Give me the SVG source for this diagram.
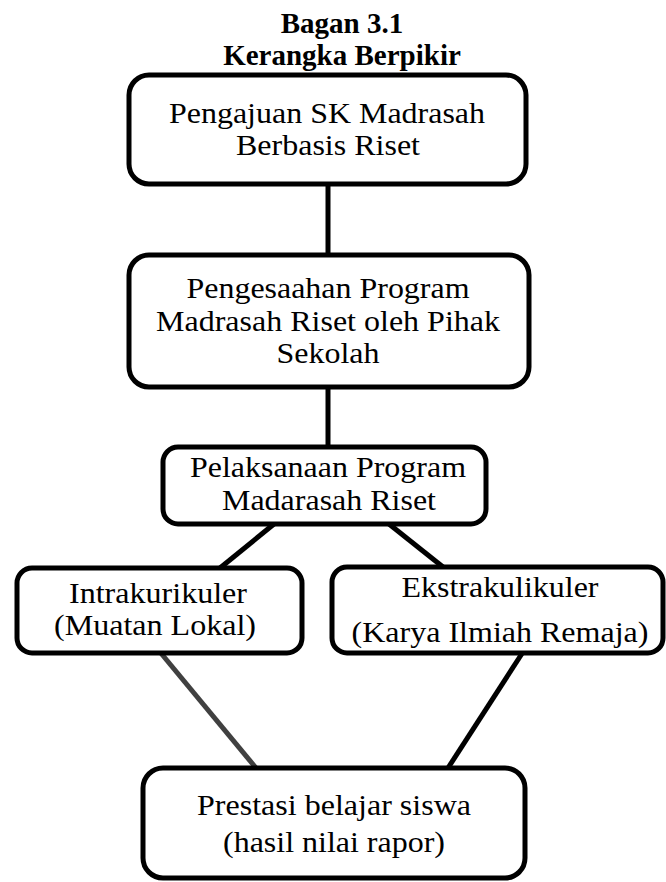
<svg xmlns="http://www.w3.org/2000/svg" width="666" height="882" viewBox="0 0 666 882">
<style>
.box{fill:#fff;stroke:#000;stroke-width:5}
.t{font-family:"Liberation Serif","Times New Roman",serif;font-size:29px;fill:#000;text-anchor:middle}
.title{font-family:"Liberation Serif","Times New Roman",serif;font-size:29px;font-weight:bold;fill:#000;text-anchor:middle}
.c{stroke:#000;stroke-width:5;fill:none}
</style>
<rect width="666" height="882" fill="#fff"/>
<g id="title">
<text class="title" x="342" y="33">Bagan 3.1</text>
<text class="title" x="342" y="65">Kerangka Berpikir</text>
</g>
<g id="connectors">
<line class="c" x1="328" y1="184" x2="328" y2="255"/>
<line class="c" x1="328" y1="387" x2="328" y2="447"/>
<line class="c" x1="274" y1="524" x2="220" y2="568"/>
<line class="c" x1="389" y1="524" x2="443" y2="567"/>
<line class="c" x1="160" y1="652" x2="256" y2="768" style="stroke:#404040"/>
<line class="c" x1="523" y1="652" x2="448" y2="768"/>
</g>
<g id="n1">
<rect class="box" x="129" y="75" width="397" height="109" rx="20"/>
<text class="t" x="327" y="123" textLength="316" lengthAdjust="spacingAndGlyphs">Pengajuan SK Madrasah</text>
<text class="t" x="328" y="155" textLength="184" lengthAdjust="spacingAndGlyphs">Berbasis Riset</text>
</g>
<g id="n2">
<rect class="box" x="129" y="255" width="400" height="132" rx="20"/>
<text class="t" x="328" y="298" textLength="283" lengthAdjust="spacingAndGlyphs">Pengesaahan Program</text>
<text class="t" x="328" y="331" textLength="344" lengthAdjust="spacingAndGlyphs">Madrasah Riset oleh Pihak</text>
<text class="t" x="328" y="363" textLength="103" lengthAdjust="spacingAndGlyphs">Sekolah</text>
</g>
<g id="n3">
<rect class="box" x="163" y="447" width="323" height="77" rx="15"/>
<text class="t" x="328" y="477" textLength="276" lengthAdjust="spacingAndGlyphs">Pelaksanaan Program</text>
<text class="t" x="329" y="510" textLength="214" lengthAdjust="spacingAndGlyphs">Madarasah Riset</text>
</g>
<g id="n4">
<rect class="box" x="17" y="568" width="285" height="85" rx="15"/>
<text class="t" x="158" y="603" textLength="178" lengthAdjust="spacingAndGlyphs">Intrakurikuler</text>
<text class="t" x="155" y="635" textLength="202" lengthAdjust="spacingAndGlyphs">(Muatan Lokal)</text>
</g>
<g id="n5">
<rect class="box" x="332" y="567" width="331" height="86" rx="15"/>
<text class="t" x="500" y="597" textLength="197" lengthAdjust="spacingAndGlyphs">Ekstrakulikuler</text>
<text class="t" x="500" y="642" textLength="297" lengthAdjust="spacingAndGlyphs">(Karya Ilmiah Remaja)</text>
</g>
<g id="n6">
<rect class="box" x="143" y="768" width="382" height="110" rx="20"/>
<text class="t" x="334" y="815" textLength="274" lengthAdjust="spacingAndGlyphs">Prestasi belajar siswa</text>
<text class="t" x="334" y="852" textLength="222" lengthAdjust="spacingAndGlyphs">(hasil nilai rapor)</text>
</g>
</svg>
